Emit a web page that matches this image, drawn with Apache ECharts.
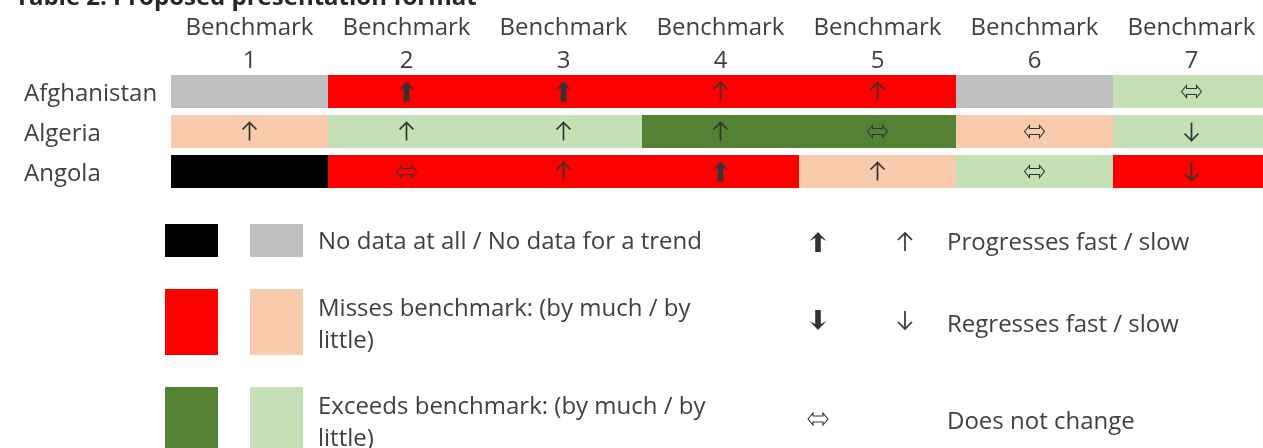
<!DOCTYPE html>
<html>
<head>
<meta charset="utf-8">
<script src="https://cdn.jsdelivr.net/npm/echarts@6/dist/echarts.min.js"></script>
<style>
html,body{margin:0;padding:0;background:#fff;}
#chart{width:1263px;height:448px;}
</style>
</head>
<body>
<div id="chart"></div>
<script>
const titleText = 'Table 2: Proposed presentation format';
const benchmarks = ['1', '2', '3', '4', '5', '6', '7'];
const countries = ['Afghanistan', 'Algeria', 'Angola'];

// status per benchmark
const afghanistanStatus = ['noTrend', 'missMuch', 'missMuch', 'missMuch', 'missMuch', 'noTrend', 'exceedLittle'];
const algeriaStatus = ['missLittle', 'exceedLittle', 'exceedLittle', 'exceedMuch', 'exceedMuch', 'missLittle', 'exceedLittle'];
const angolaStatus = ['noData', 'missMuch', 'missMuch', 'missMuch', 'missLittle', 'exceedLittle', 'missMuch'];
// trend per benchmark
const afghanistanTrend = ['', 'fastUp', 'fastUp', 'slowUp', 'slowUp', '', 'same'];
const algeriaTrend = ['slowUp', 'slowUp', 'slowUp', 'slowUp', 'same', 'same', 'slowDown'];
const angolaTrend = ['', 'same', 'slowUp', 'fastUp', 'slowUp', 'same', 'slowDown'];

const statusRows = [afghanistanStatus, algeriaStatus, angolaStatus];
const trendRows = [afghanistanTrend, algeriaTrend, angolaTrend];

const colorLegendLabels = [
  'No data at all / No data for a trend',
  'Misses benchmark: (by much / by\nlittle)',
  'Exceeds benchmark: (by much / by\nlittle)'
];
const trendLegendLabels = ['Progresses fast / slow', 'Regresses fast / slow', 'Does not change'];

const statusColors = {
  noData: '#000000', noTrend: '#BFBFBF',
  missMuch: '#FF0000', missLittle: '#F8CBAD',
  exceedMuch: '#548235', exceedLittle: '#C5E0B4'
};
const symColor = '#333333';

function shift(pts, x, y) { return pts.map(p => [p[0] + x, p[1] + y]); }
function symbolEl(kind, x, y) {
  const children = [];
  if (kind === 'slowUp' || kind === 'slowDown') {
    const s = kind === 'slowUp' ? 1 : -1;
    children.push({ type: 'polyline', shape: { points: shift([[0, -9 * s], [0, 9 * s]], x, y) }, style: { stroke: symColor, lineWidth: 1.7, fill: null } });
    children.push({ type: 'polyline', shape: { points: shift([[-7, -2 * s], [0, -9 * s], [7, -2 * s]], x, y) }, style: { stroke: symColor, lineWidth: 1.7, fill: null } });
  } else if (kind === 'fastUp' || kind === 'fastDown') {
    const s = kind === 'fastUp' ? 1 : -1;
    const pts = [[0, -10], [8.5, -1], [2.8, -4], [2.8, 10], [-2.8, 10], [-2.8, -4], [-8.5, -1]].map(p => [p[0], p[1] * s]);
    children.push({ type: 'polygon', shape: { points: shift(pts, x, y) }, style: { fill: symColor } });
  } else if (kind === 'same') {
    const pts = [[-10, 0], [-5, -6], [-5, -3], [5, -3], [5, -6], [10, 0], [5, 6], [5, 3], [-5, 3], [-5, 6]];
    children.push({ type: 'polygon', shape: { points: shift(pts, x, y) }, style: { fill: null, stroke: symColor, lineWidth: 1.1 } });
  }
  return { type: 'group', children: children, silent: true };
}

const cells = [];
statusRows.forEach((row, r) => {
  row.forEach((st, c) => {
    cells.push({ value: [c, r], status: st, trend: trendRows[r][c] });
  });
});

const font = "'Open Sans', 'Noto Sans', sans-serif";
const textColor = '#404040';

// legend graphics
const legendEls = [];
const colorPairs = [['noData', 'noTrend'], ['missMuch', 'missLittle'], ['exceedMuch', 'exceedLittle']];
const legendRowTop = [224, 289, 387];
const legendRowH = [33, 66, 66];
const legendTextY = [242.5, 325, 423.5];
colorPairs.forEach((pair, i) => {
  legendEls.push({ type: 'rect', shape: { x: 165, y: legendRowTop[i], width: 53, height: legendRowH[i] }, style: { fill: statusColors[pair[0]] } });
  legendEls.push({ type: 'rect', shape: { x: 250, y: legendRowTop[i], width: 53, height: legendRowH[i] }, style: { fill: statusColors[pair[1]] } });
  legendEls.push({ type: 'text', x: 318, y: legendTextY[i], style: { text: colorLegendLabels[i], font: '24px ' + font, fill: textColor, verticalAlign: 'middle', align: 'left', lineHeight: 32 } });
});
const trendPairs = [['fastUp', 'slowUp'], ['fastDown', 'slowDown'], ['same', null]];
const trendY = [242, 320, 419];
const trendTextY = [243, 325, 422];
trendPairs.forEach((pair, i) => {
  legendEls.push(symbolEl(pair[0], 818, trendY[i]));
  if (pair[1]) legendEls.push(symbolEl(pair[1], 905, trendY[i]));
  legendEls.push({ type: 'text', x: 947, y: trendTextY[i], style: { text: trendLegendLabels[i], font: '24px ' + font, fill: textColor, verticalAlign: 'middle', align: 'left' } });
});

const chart = echarts.init(document.getElementById('chart'), null, { renderer: 'canvas' });
chart.setOption({
  animation: false,
  backgroundColor: '#ffffff',
  title: {
    text: titleText, left: 10, top: -19,
    textStyle: { fontSize: 24, fontWeight: 'bold', color: '#262626', fontFamily: font }
  },
  grid: { left: 171, top: 71.5, width: 1099, height: 120, outerBoundsMode: 'none', containLabel: false },
  xAxis: {
    type: 'category', position: 'top',
    data: benchmarks.map(b => 'Benchmark\n' + b),
    axisLine: { show: false }, axisTick: { show: false }, splitLine: { show: false },
    axisLabel: { interval: 0, fontSize: 24, lineHeight: 33, color: textColor, fontFamily: font, margin: -6 }
  },
  yAxis: {
    type: 'category', inverse: true, data: countries,
    axisLine: { show: false }, axisTick: { show: false }, splitLine: { show: false },
    axisLabel: {
      align: 'left', margin: 147, color: textColor,
      formatter: v => '{c|' + v + '}',
      rich: { c: { fontSize: 24, fontFamily: font, color: textColor, padding: [5, 0, 0, 0] } }
    }
  },
  series: [{
    type: 'custom',
    coordinateSystem: 'cartesian2d',
    silent: true,
    encode: { x: 0, y: 1 },
    data: cells.map(c => c.value),
    renderItem: function (params, api) {
      const cell = cells[params.dataIndex];
      const pt = api.coord([api.value(0), api.value(1)]);
      const size = api.size([1, 1]);
      const h = 33;
      const children = [{
        type: 'rect',
        shape: { x: pt[0] - size[0] / 2, y: pt[1] - h / 2, width: size[0], height: h },
        style: { fill: statusColors[cell.status] }
      }];
      if (cell.trend) children.push(symbolEl(cell.trend, pt[0], pt[1]));
      return { type: 'group', children: children };
    }
  }],
  graphic: { elements: legendEls }
});
</script>
</body>
</html>
